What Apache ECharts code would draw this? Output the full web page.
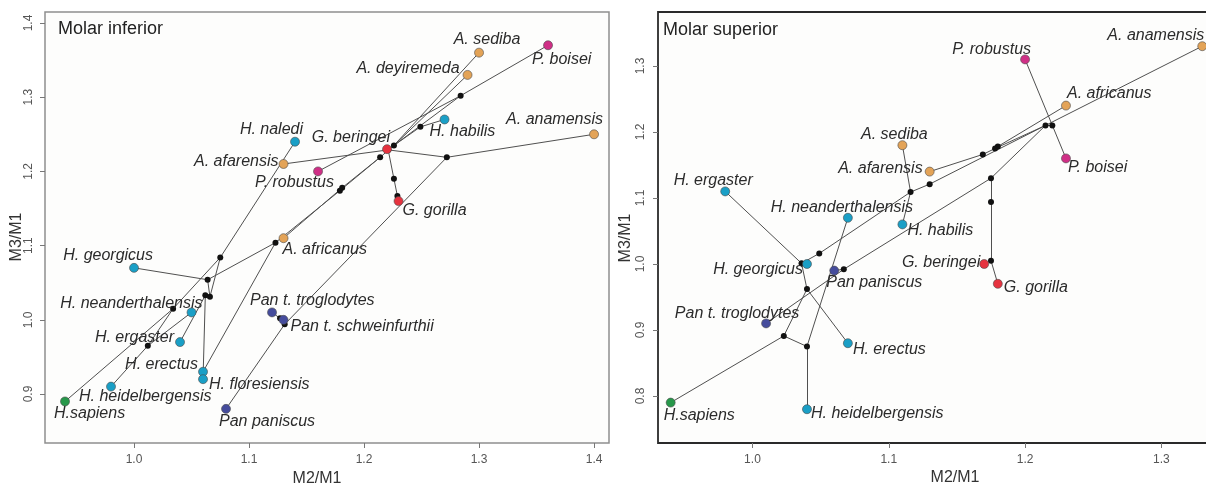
<!DOCTYPE html>
<html>
<head>
<meta charset="utf-8">
<script src="https://cdn.jsdelivr.net/npm/echarts@6/dist/echarts.min.js"></script>
<style>
html,body{margin:0;padding:0;background:#fff}
#chart{width:1206px;height:489px}
</style>
</head>
<body>
<div id="chart"></div>
<script>
// ---------- Molar inferior (lower molars) ----------
const infTaxa = ['A. sediba','P. boisei','A. deyiremeda','H. habilis','A. anamensis','G. beringei','G. gorilla','P. robustus','H. naledi','A. afarensis','A. africanus','H. georgicus','H. neanderthalensis','H. ergaster','H. erectus','H. floresiensis','H. heidelbergensis','H.sapiens','Pan t. troglodytes','Pan t. schweinfurthii','Pan paniscus'];
const infM2 = [1.30,1.36,1.29,1.27,1.40,1.22,1.23,1.16,1.14,1.13,1.13,1.00,1.05,1.04,1.06,1.06,0.98,0.94,1.12,1.13,1.08];
const infM3 = [1.36,1.37,1.33,1.27,1.25,1.23,1.16,1.20,1.24,1.21,1.11,1.07,1.01,0.97,0.93,0.92,0.91,0.89,1.01,1.00,0.88];
const infGroup = ['Aus','Par','Aus','Homo','Aus','Gor','Gor','Par','Homo','Aus','Aus','Homo','Homo','Homo','Homo','Homo','Homo','Sap','Pan','Pan','Pan'];

// reconstructed ancestral nodes
const infNodes = ['n0','n1','n2','n3','n4','n5','n6','n7','n8','n9','n10','n11','n12','n13','n14','n15','n16','n17','n18'];
const infNodeM2 = [1.221,1.284,1.249,1.226,1.214,1.181,1.179,1.272,1.226,1.229,1.123,1.075,1.064,1.062,1.066,1.127,1.131,1.034,1.012];
const infNodeM3 = [1.229,1.302,1.260,1.235,1.219,1.178,1.174,1.219,1.190,1.167,1.104,1.084,1.054,1.033,1.031,1.002,0.994,1.015,0.965];

const infEdges = [
  ['A. anamensis','n7'],['n7','n16'],['n16','Pan paniscus'],['n16','n15'],['n15','Pan t. troglodytes'],['n15','Pan t. schweinfurthii'],
  ['n7','n0'],['n0','A. afarensis'],['n0','n8'],['n8','n9'],['n9','G. gorilla'],
  ['n0','n3'],['n3','A. sediba'],['n3','A. deyiremeda'],['n3','n1'],['n1','P. boisei'],['n1','P. robustus'],
  ['n3','n2'],['n2','H. habilis'],['n3','n4'],['n4','n5'],['n4','n6'],['n5','A. africanus'],['n6','n10'],
  ['n10','H. erectus'],['n10','n12'],['n12','H. georgicus'],['n12','n14'],['n14','n13'],['n13','H. floresiensis'],
  ['n13','H. ergaster'],['n14','n11'],['n11','H. naledi'],['n11','n17'],['n17','H.sapiens'],['n17','n18'],
  ['n18','H. heidelbergensis'],['n18','H. neanderthalensis']
];

// ---------- Molar superior (upper molars) ----------
const supTaxa = ['A. anamensis','P. robustus','A. africanus','P. boisei','A. sediba','A. afarensis','H. habilis','H. ergaster','H. neanderthalensis','H. georgicus','Pan paniscus','Pan t. troglodytes','H. erectus','H.sapiens','H. heidelbergensis','G. beringei','G. gorilla'];
const supM2 = [1.33,1.20,1.23,1.23,1.11,1.13,1.11,0.98,1.07,1.04,1.06,1.01,1.07,0.94,1.04,1.17,1.18];
const supM3 = [1.33,1.31,1.24,1.16,1.18,1.14,1.06,1.11,1.07,1.00,0.99,0.91,0.88,0.79,0.78,1.00,0.97];
const supGroup = ['Aus','Par','Aus','Par','Aus','Aus','Homo','Homo','Homo','Homo','Pan','Pan','Homo','Sap','Homo','Gor','Gor'];

const supNodes = ['r1','r2','r3','r4','r5','r6','r7','r8','r9','r10','r11','r12','r13','r14','r15','r16'];
const supNodeM2 = [1.215,1.220,1.180,1.178,1.169,1.130,1.116,1.175,1.175,1.175,1.036,1.049,1.067,1.040,1.023,1.040];
const supNodeM3 = [1.210,1.210,1.178,1.175,1.166,1.121,1.109,1.130,1.094,1.005,1.001,1.016,0.992,0.962,0.891,0.875];

const supEdges = [
  ['A. anamensis','r1'],['r1','r2'],['r2','P. robustus'],['r2','P. boisei'],['r1','r8'],['r8','r13'],
  ['r13','Pan paniscus'],['r13','Pan t. troglodytes'],['r8','r9'],['r9','r10'],['r10','G. beringei'],['r10','G. gorilla'],
  ['r1','r4'],['r4','r3'],['r3','A. africanus'],['r4','r5'],['r5','A. afarensis'],['r1','r6'],['r6','r7'],
  ['r7','A. sediba'],['r7','H. habilis'],['r7','r12'],['r12','r11'],['r11','H. georgicus'],['r11','H. ergaster'],
  ['r11','r14'],['r14','H. erectus'],['r14','r15'],['r15','H.sapiens'],['r15','r16'],['r16','H. neanderthalensis'],
  ['r16','H. heidelbergensis']
];

// axis ticks
const infXTicks = [1.0,1.1,1.2,1.3,1.4];
const infYTicks = [0.9,1.0,1.1,1.2,1.3,1.4];
const supXTicks = [1.0,1.1,1.2,1.3];
const supYTicks = [0.8,0.9,1.0,1.1,1.2,1.3];

// ---------- styling ----------
const cladeColor = {Homo:'#1a9fc6', Sap:'#27984a', Aus:'#e3a357', Par:'#cf2f86', Gor:'#e6333f', Pan:'#454c9c'};

// label placement: [align, dx, dy] relative to the point centre (pixels)
const infLabelPlace = {
  'A. sediba':['center',8,-13],'P. boisei':['left',-16,14],'A. deyiremeda':['right',-8,-6],'H. habilis':['left',-15,12],
  'A. anamensis':['right',9,-15],'G. beringei':['right',3,-12],'G. gorilla':['left',4,9],'P. robustus':['left',-63,11],
  'H. naledi':['right',8,-12],'A. afarensis':['right',-5,-2],'A. africanus':['left',-1,11],'H. georgicus':['right',19,-12],
  'H. neanderthalensis':['right',11,-9],'H. ergaster':['right',-6,-5],'H. erectus':['right',-5,-7],'H. floresiensis':['left',6,5],
  'H. heidelbergensis':['left',-32,10],'H.sapiens':['left',-11,12],'Pan t. troglodytes':['left',-22,-12],
  'Pan t. schweinfurthii':['left',7,7],'Pan paniscus':['left',-7,13]
};
const supLabelPlace = {
  'A. anamensis':['right',2,-11],'P. robustus':['right',6,-10],'A. africanus':['left',1,-12],'P. boisei':['left',2,9],
  'A. sediba':['center',-8,-11],'A. afarensis':['right',-7,-3],'H. habilis':['left',5,6],'H. ergaster':['center',-12,-11],
  'H. neanderthalensis':['center',-6,-10],'H. georgicus':['right',-4,6],'Pan paniscus':['left',-8,12],
  'Pan t. troglodytes':['center',-29,-10],'H. erectus':['left',5,6],'H.sapiens':['left',-7,13],
  'H. heidelbergensis':['left',4,4],'G. beringei':['right',-4,-1],'G. gorilla':['left',6,4]
};

const FONT = '"Liberation Sans", Arial, sans-serif';

function buildPanel(idx, taxa, m2, m3, groups, nodes, nm2, nm3, edges, place) {
  const pos = {};
  taxa.forEach((t, i) => { pos[t] = [m2[i], m3[i]]; });
  nodes.forEach((n, i) => { pos[n] = [nm2[i], nm3[i]]; });
  const edgeSeries = {
    type: 'lines', coordinateSystem: 'cartesian2d', xAxisIndex: idx, yAxisIndex: idx,
    silent: true, z: 2,
    lineStyle: {color: '#505050', width: 1, opacity: 1},
    data: edges.map(e => ({coords: [pos[e[0]], pos[e[1]]]}))
  };
  const nodeSeries = {
    type: 'scatter', xAxisIndex: idx, yAxisIndex: idx, silent: true, z: 3,
    symbolSize: 6, itemStyle: {color: '#111', opacity: 1},
    data: nodes.map(n => pos[n])
  };
  const tipSeries = {
    type: 'scatter', xAxisIndex: idx, yAxisIndex: idx, silent: true, z: 4,
    symbolSize: 9,
    data: taxa.map((t, i) => {
      const p = place[t];
      return {
        name: t, value: [m2[i], m3[i]],
        itemStyle: {color: cladeColor[groups[i]], borderColor: '#4a4a4a', borderWidth: 0.6, opacity: 1},
        label: {
          show: true, formatter: '{b}', position: 'inside', align: p[0], verticalAlign: 'middle',
          offset: [p[1], p[2]], fontStyle: 'italic', fontSize: 16, color: '#2b2b2b', fontFamily: FONT
        }
      };
    })
  };
  return [edgeSeries, nodeSeries, tipSeries];
}

function xAxisOf(idx, min, max, ticks) {
  return {
    type: 'value', gridIndex: idx, min: min, max: max,
    axisLine: {show: false}, splitLine: {show: false},
    axisTick: {show: true, inside: false, length: 5, customValues: ticks, lineStyle: {color: '#777', width: 1}},
    axisLabel: {show: true, customValues: ticks, margin: 11, formatter: v => v.toFixed(1),
      fontSize: 12, color: '#555', fontFamily: FONT}
  };
}
function yAxisOf(idx, min, max, ticks, margin) {
  return {
    type: 'value', gridIndex: idx, min: min, max: max,
    axisLine: {show: false}, splitLine: {show: false},
    axisTick: {show: true, inside: false, length: 5, customValues: ticks, lineStyle: {color: '#777', width: 1}},
    axisLabel: {show: true, customValues: ticks, rotate: 90, margin: margin, formatter: v => v.toFixed(1),
      fontSize: 12, color: '#555', fontFamily: FONT}
  };
}

const chart = echarts.init(document.getElementById('chart'), null, {renderer: 'canvas'});
const option = {
  animation: false,
  backgroundColor: '#ffffff',
  grid: [
    {left: 45, top: 12, width: 564, height: 431, show: true, borderColor: '#8f8f8f', borderWidth: 1.5,
     backgroundColor: '#fdfdfc', outerBoundsMode: 'none'},
    {left: 658, top: 12, width: 550, height: 431, show: true, borderColor: '#2a2a2a', borderWidth: 1.8,
     backgroundColor: '#fdfdfc', outerBoundsMode: 'none'}
  ],
  xAxis: [xAxisOf(0, 0.9226, 1.413, infXTicks), xAxisOf(1, 0.9307, 1.3342, supXTicks)],
  yAxis: [yAxisOf(0, 0.834, 1.4148, infYTicks, 10), yAxisOf(1, 0.7288, 1.3818, supYTicks, 11)],
  graphic: [
    {type: 'text', left: 58, top: 20, style: {text: 'Molar inferior', fill: '#222', font: '18px ' + FONT}},
    {type: 'text', left: 663, top: 21, style: {text: 'Molar superior', fill: '#222', font: '18px ' + FONT}},
    {type: 'text', x: 317, y: 479, style: {text: 'M2/M1', font: '16px ' + FONT, fill: '#333', align: 'center', verticalAlign: 'middle'}},
    {type: 'text', x: 955, y: 478, style: {text: 'M2/M1', font: '16px ' + FONT, fill: '#333', align: 'center', verticalAlign: 'middle'}},
    {type: 'text', x: 17, y: 237, rotation: Math.PI / 2, style: {text: 'M3/M1', font: '16px ' + FONT, fill: '#333', align: 'center', verticalAlign: 'middle'}},
    {type: 'text', x: 626, y: 238, rotation: Math.PI / 2, style: {text: 'M3/M1', font: '16px ' + FONT, fill: '#333', align: 'center', verticalAlign: 'middle'}}
  ],
  series: [].concat(
    buildPanel(0, infTaxa, infM2, infM3, infGroup, infNodes, infNodeM2, infNodeM3, infEdges, infLabelPlace),
    buildPanel(1, supTaxa, supM2, supM3, supGroup, supNodes, supNodeM2, supNodeM3, supEdges, supLabelPlace)
  )
};
chart.setOption(option);
</script>
</body>
</html>
